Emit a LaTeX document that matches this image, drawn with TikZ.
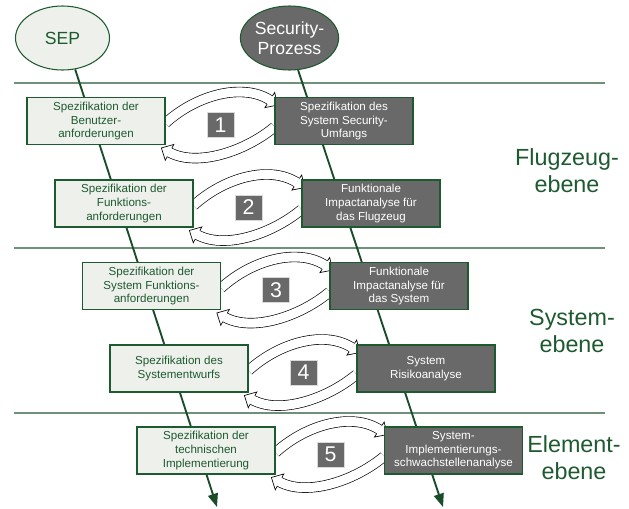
\documentclass[tikz,border=0pt]{standalone}
\usepackage{fontspec}
\setmainfont{Liberation Sans}
\usetikzlibrary{shapes.geometric,arrows.meta,decorations.markings,backgrounds,calc}

\definecolor{sepgreen}{HTML}{1E5A30}
\definecolor{rulegreen}{HTML}{6F9178}
\definecolor{lightfill}{HTML}{EEF0EC}
\definecolor{darkfill}{HTML}{696969}
\definecolor{numframe}{HTML}{D9D9D9}

\tikzset{
  boxbase/.style={font=\fontsize{8.7}{10.2}\selectfont, align=center, inner sep=0pt,
    minimum width=103.5pt, minimum height=35.25pt, line width=0.8pt, draw=sepgreen},
  sepbox/.style={boxbase, fill=lightfill, text=sepgreen},
  secbox/.style={boxbase, fill=darkfill, text=white},
  numbox/.style={fill=darkfill, draw=numframe, line width=0.5pt, text=white,
    minimum width=20.25pt, minimum height=18.75pt, inner sep=0pt,
    font=\fontsize{16}{16}\selectfont},
  phase/.style={ellipse, minimum width=70.5pt, minimum height=48pt, inner sep=0pt,
    line width=0.8pt, draw=sepgreen, align=center, font=\fontsize{13.2}{15}\selectfont},
  level/.style={text=sepgreen, align=center, font=\fontsize{17.5}{20.25}\selectfont},
  flow/.style={draw=sepgreen!85!black, line width=1.4pt, -{Triangle[length=10pt,width=7.5pt]}},
  divider/.style={draw=rulegreen, line width=1.1pt},
  band/.style={draw=black, line width=0.5pt, double=white, double distance=6.8pt},
  bandhead/.style={decorate, decoration={markings, mark=at position 0.999 with {%
      \fill[white] (-9,-9) -- (0.3,0) -- (-9,9) -- cycle;
      \draw[black, line width=0.5pt, line join=miter]
        (-9,-4.87) -- (-9,-9) -- (0.3,0) -- (-9,9) -- (-9,4.87);}}},
}

% hollow curved block arrow: start, first control (relative), second control (relative), tip
\newcommand\bandarrow[4]{%
  \draw[band, shorten >=6.75pt] #1 .. controls +#2 and +#3 .. #4;
  \path[bandhead] #1 .. controls +#2 and +#3 .. #4;
}

\begin{document}
\begin{tikzpicture}[x=0.75pt,y=-0.75pt]
\useasboundingbox (0,0) rectangle (629,508);

% process heads
\node[phase, fill=lightfill, text=sepgreen] (SEP) at (62.5,38) {SEP};
\node[phase, fill=darkfill, text=white] (SEC) at (289.5,38) {Security-\\Prozess};

% systems engineering steps
\node[sepbox] (L1) at (96,121)    {Spezifikation der\\Benutzer-\\anforderungen};
\node[sepbox] (L2) at (124,203.5) {Spezifikation der\\Funktions-\\anforderungen};
\node[sepbox] (L3) at (151.5,286) {Spezifikation der\\System Funktions-\\anforderungen};
\node[sepbox] (L4) at (179,368.5) {Spezifikation des\\Systementwurfs};
\node[sepbox] (L5) at (206,450.5) {Spezifikation der\\technischen\\Implementierung};

% security steps
\node[secbox] (R1) at (344,121)    {Spezifikation des\\System Security-\\Umfangs};
\node[secbox] (R2) at (371,203.5)  {Funktionale\\Impactanalyse für\\das Flugzeug};
\node[secbox] (R3) at (399,286)    {Funktionale\\Impactanalyse für\\das System};
\node[secbox] (R4) at (426,368.5)  {System\\Risikoanalyse};
\node[secbox] (R5) at (453.5,450.5){System-\\Implementierungs-\\schwachstellenanalyse};

% level labels
\node[level] (LV1) at (567,171)   {Flugzeug-\\ebene};
\node[level] (LV2) at (572,330.5) {System-\\ebene};
\node[level] (LV3) at (574,458)   {Element-\\ebene};

\coordinate (endL) at (217,507);
\coordinate (endR) at (443,507);

\begin{scope}[on background layer]
  % level dividers
  \draw[divider] (14,83)  -- (605,83);
  \draw[divider] (14,248) -- (605,248);
  \draw[divider] (14,413) -- (605,413);
  % process flows
  \draw[flow] (SEP.-68) -- (endL);
  \draw[flow] (SEC.-75) -- (endR);
  % exchanges between the two processes
  \foreach \k in {1,...,5}{
    \bandarrow{([shift={(0,2)}]L\k.east)}{(32,-29)}{(-34,-22)}{([shift={(3,8)}]R\k.north west)}
    \bandarrow{([shift={(0,6)}]R\k.west)}{(-30,25)}{(35,19)}{([shift={(-4,3)}]L\k.south east)}
  }
\end{scope}

% step numbers
\foreach \k in {1,...,5}{
  \node[numbox] (N\k) at ($(L\k.east)+(55,4)$) {\k};
}
\end{tikzpicture}
\end{document}
